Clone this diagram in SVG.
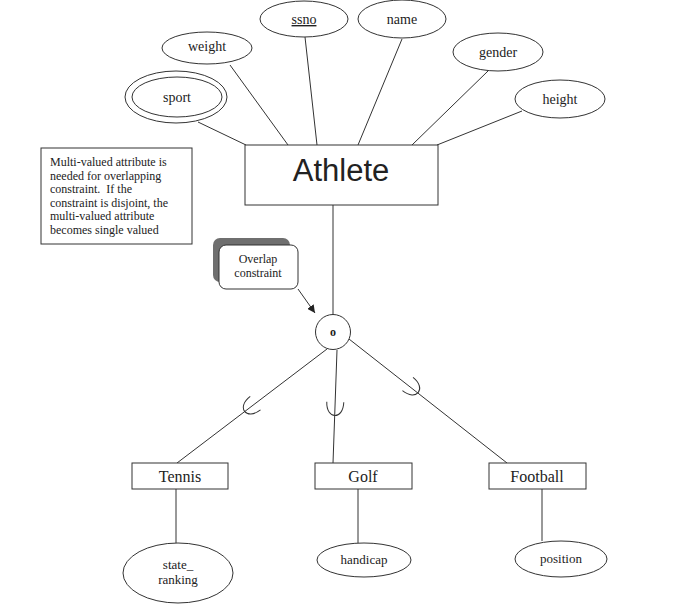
<svg xmlns="http://www.w3.org/2000/svg" width="697" height="615" viewBox="0 0 697 615">
<defs>
<style>
.ln{stroke:#333;stroke-width:1;fill:none}
.sh{fill:#fff;stroke:#333;stroke-width:1}
.t{font-family:"Liberation Serif","Times New Roman",serif;fill:#222;text-anchor:middle}
.a{font-size:14px}
.s{font-size:16px}
.n{font-family:"Liberation Serif","Times New Roman",serif;fill:#222;font-size:12px}
.u{stroke:#333;stroke-width:1;fill:none}
</style>
<marker id="ah" viewBox="0 0 10 10" refX="10" refY="5" markerWidth="8" markerHeight="8" orient="auto" markerUnits="userSpaceOnUse">
<path d="M0,0 L10,5 L0,10 z" fill="#222"/>
</marker>
<path id="U" d="M -8.5 -8 C -8.5 10, 8.5 10, 8.5 -8"/>
</defs>
<rect width="697" height="615" fill="#fff"/>
<g id="connectors">
<line class="ln" x1="198" y1="122" x2="246" y2="145"/>
<line class="ln" x1="230" y1="65" x2="288" y2="145"/>
<line class="ln" x1="305" y1="37" x2="317" y2="145"/>
<line class="ln" x1="402" y1="39" x2="358" y2="145"/>
<line class="ln" x1="488" y1="71" x2="412" y2="145"/>
<line class="ln" x1="522" y1="111" x2="437" y2="145"/>
<line class="ln" x1="333" y1="205" x2="333" y2="315"/>
<line class="ln" x1="298" y1="289" x2="315" y2="313" marker-end="url(#ah)"/>
<line class="ln" x1="327" y1="349" x2="177" y2="463"/>
<line class="ln" x1="337" y1="350" x2="333" y2="463"/>
<line class="ln" x1="349" y1="339" x2="507" y2="463"/>
<use href="#U" class="u" transform="translate(249,408) rotate(52.8)"/>
<use href="#U" class="u" transform="translate(335,410) rotate(2)"/>
<use href="#U" class="u" transform="translate(414,389) rotate(-51.5)"/>
<line class="ln" x1="176" y1="489" x2="176" y2="543"/>
<line class="ln" x1="358" y1="489" x2="358" y2="543"/>
<line class="ln" x1="542" y1="489" x2="542" y2="541"/>
</g>
<g id="ssno"><ellipse class="sh" cx="304" cy="19" rx="44" ry="18"/><text class="t a" x="304" y="24" text-decoration="underline">ssno</text></g>
<g id="name"><ellipse class="sh" cx="402" cy="19" rx="44" ry="19"/><text class="t a" x="402" y="24">name</text></g>
<g id="weight"><ellipse class="sh" cx="207" cy="48" rx="45" ry="16"/><text class="t a" x="207" y="51">weight</text></g>
<g id="sport"><ellipse class="sh" cx="176" cy="97" rx="51" ry="26"/><ellipse class="sh" cx="177" cy="97" rx="45" ry="20"/><text class="t a" x="177" y="102">sport</text></g>
<g id="gender"><ellipse class="sh" cx="498" cy="52" rx="45" ry="19"/><text class="t a" x="498" y="57">gender</text></g>
<g id="height"><ellipse class="sh" cx="560" cy="99" rx="45" ry="19"/><text class="t a" x="560" y="104">height</text></g>
<g id="athlete"><rect class="sh" x="245" y="145" width="193" height="60"/><text x="341" y="181" text-anchor="middle" font-family="'Liberation Sans',Arial,sans-serif" font-size="31" fill="#222">Athlete</text></g>
<g id="note"><rect class="sh" x="41" y="148" width="151" height="96" stroke="#555"/>
<text class="n" x="50" y="166">Multi-valued attribute is</text>
<text class="n" x="50" y="179.5">needed for overlapping</text>
<text class="n" x="50" y="193" xml:space="preserve">constraint.  If the</text>
<text class="n" x="50" y="206.5">constraint is disjoint, the</text>
<text class="n" x="50" y="220">multi-valued attribute</text>
<text class="n" x="50" y="233.5">becomes single valued</text>
</g>
<g id="overlap-callout"><rect x="213" y="238" width="77" height="44" rx="7" fill="#6f6f6f"/><rect class="sh" x="219" y="245" width="79" height="44" rx="7" stroke="#555"/>
<text class="t" x="258" y="263" font-size="12">Overlap</text><text class="t" x="258" y="277" font-size="12">constraint</text></g>
<g id="overlap-circle"><circle class="sh" cx="333" cy="332" r="17.5"/><text class="t" x="333" y="336" font-size="12" font-weight="bold">o</text></g>
<g id="tennis"><rect class="sh" x="132" y="463" width="96" height="26"/><text class="t s" x="180" y="482">Tennis</text></g>
<g id="golf"><rect class="sh" x="315" y="463" width="97" height="26"/><text class="t s" x="363" y="482">Golf</text></g>
<g id="football"><rect class="sh" x="489" y="463" width="97" height="26"/><text class="t s" x="537" y="482">Football</text></g>
<g id="state_ranking"><ellipse class="sh" cx="178" cy="573" rx="55" ry="30"/><text class="t" x="178" y="569" font-size="13">state_</text><text class="t" x="178" y="584" font-size="13">ranking</text></g>
<g id="handicap"><ellipse class="sh" cx="364" cy="560" rx="47" ry="17"/><text class="t" x="364" y="564" font-size="13">handicap</text></g>
<g id="position"><ellipse class="sh" cx="561" cy="559" rx="46" ry="18"/><text class="t" x="561" y="563" font-size="13">position</text></g>
</svg>
